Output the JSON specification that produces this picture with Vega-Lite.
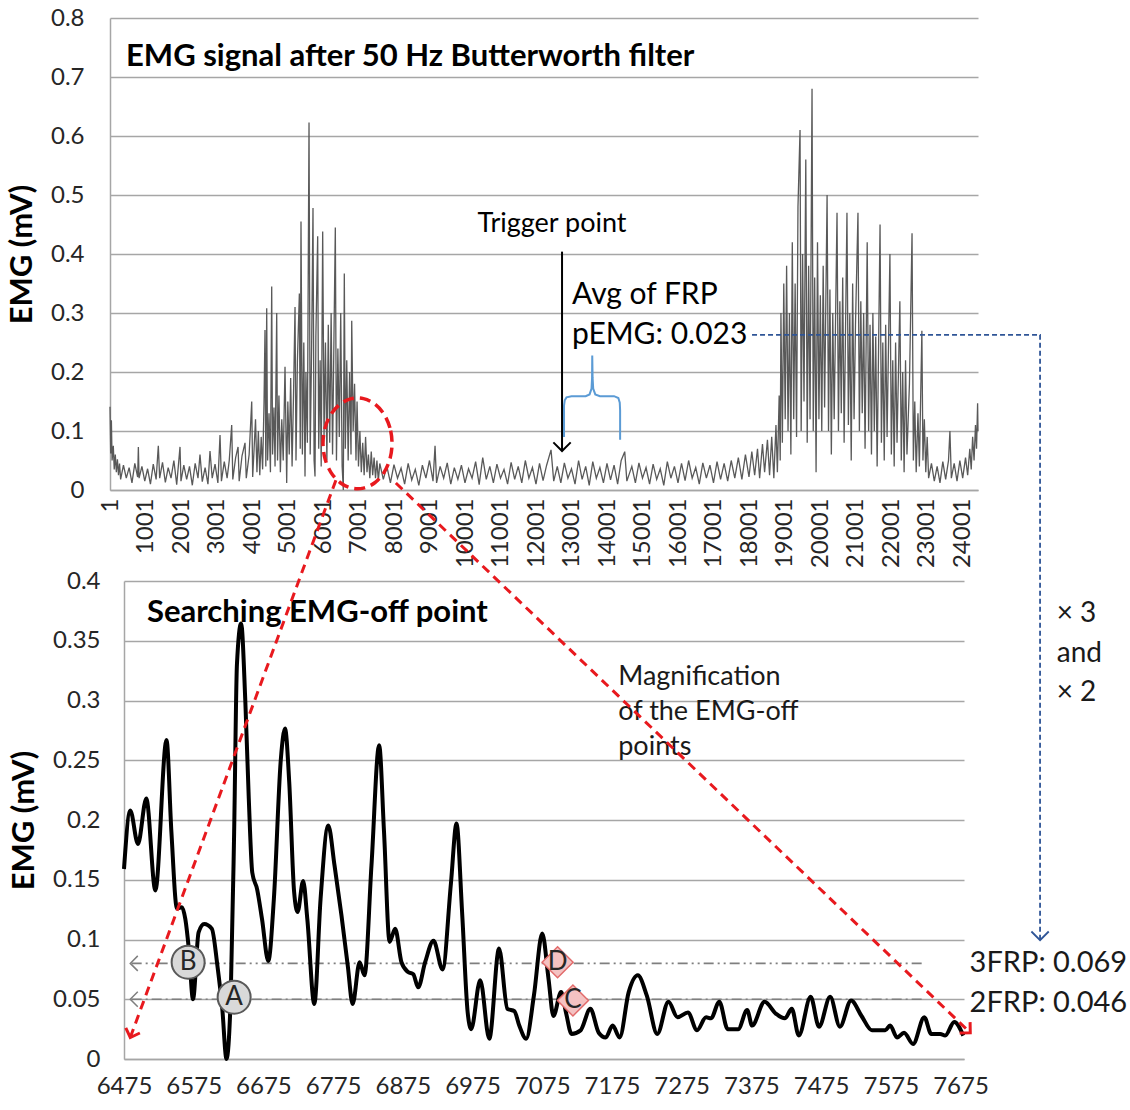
{
  "$schema": "https://vega.github.io/schema/vega-lite/v6.json",
  "background": "white",
  "padding": {"left": 6, "top": 6, "right": 2, "bottom": 5},
  "spacing": 91,
  "bounds": "flush",
  "center": true,
  "config": {
    "font": "Lato",
    "view": {"stroke": null},
    "axis": {
      "labelFont": "Lato", "labelFontSize": 24, "labelColor": "#262626",
      "titleFont": "Lato", "titleFontWeight": "bold", "titleFontSize": 31, "titleColor": "#000000",
      "ticks": false, "domainColor": "#a6a6a6", "domainWidth": 1.5,
      "gridColor": "#a6a6a6", "gridWidth": 1.5, "labelFlush": false, "labelOverlap": false
    }
  },
  "datasets": {
    "emg": [
      {"i":1,"v":0.141},{"i":20,"v":0.062},{"i":40,"v":0.118},{"i":60,"v":0.05},{"i":94,"v":0.075},{"i":120,"v":0.035},{"i":150,"v":0.06},{"i":180,"v":0.03},{"i":210,"v":0.052},{"i":240,"v":0.025},{"i":270,"v":0.045},
      {"i":300,"v":0.018},{"i":380,"v":0.042},{"i":460,"v":0.02},{"i":540,"v":0.038},{"i":620,"v":0.012},{"i":700,"v":0.045},{"i":780,"v":0.022},{"i":800,"v":0.073},{"i":820,"v":0.02},{"i":900,"v":0.04},{"i":980,"v":0.015},{"i":1060,"v":0.036},{"i":1140,"v":0.01},{"i":1220,"v":0.044},{"i":1300,"v":0.018},{"i":1362,"v":0.075},{"i":1400,"v":0.02},{"i":1480,"v":0.047},{"i":1560,"v":0.013},{"i":1640,"v":0.038},{"i":1720,"v":0.02},{"i":1800,"v":0.05},{"i":1880,"v":0.009},{"i":1973,"v":0.073},{"i":2000,"v":0.015},{"i":2080,"v":0.042},{"i":2160,"v":0.018},{"i":2240,"v":0.04},{"i":2320,"v":0.008},{"i":2400,"v":0.045},{"i":2480,"v":0.02},{"i":2536,"v":0.06},{"i":2600,"v":0.014},{"i":2680,"v":0.038},{"i":2760,"v":0.01},{"i":2818,"v":0.066},{"i":2880,"v":0.02},{"i":2960,"v":0.044},{"i":3040,"v":0.012},{"i":3100,"v":0.093},{"i":3140,"v":0.015},{"i":3220,"v":0.048},{"i":3300,"v":0.02},{"i":3360,"v":0.05},{"i":3429,"v":0.11},{"i":3460,"v":0.018},{"i":3540,"v":0.055},{"i":3608,"v":0.073},{"i":3640,"v":0.015},{"i":3720,"v":0.058},{"i":3804,"v":0.08},{"i":3840,"v":0.02},{"i":3920,"v":0.06},{"i":3993,"v":0.15},{"i":4020,"v":0.022},
      {"i":4060,"v":0.07},{"i":4100,"v":0.12},{"i":4140,"v":0.03},{"i":4180,"v":0.1},{"i":4220,"v":0.025},{"i":4260,"v":0.09},{"i":4300,"v":0.035},{"i":4340,"v":0.15},{"i":4367,"v":0.271},{"i":4390,"v":0.04},{"i":4415,"v":0.308},{"i":4440,"v":0.05},{"i":4480,"v":0.13},{"i":4520,"v":0.03},{"i":4556,"v":0.345},{"i":4580,"v":0.06},{"i":4620,"v":0.14},{"i":4650,"v":0.04},{"i":4697,"v":0.3},{"i":4720,"v":0.05},{"i":4760,"v":0.16},{"i":4800,"v":0.03},{"i":4840,"v":0.12},{"i":4880,"v":0.05},{"i":4931,"v":0.209},{"i":4978,"v":0.012},{"i":5010,"v":0.15},{"i":5050,"v":0.06},{"i":5090,"v":0.19},{"i":5130,"v":0.04},{"i":5170,"v":0.16},{"i":5213,"v":0.31},{"i":5240,"v":0.05},{"i":5280,"v":0.22},{"i":5335,"v":0.333},{"i":5360,"v":0.07},{"i":5381,"v":0.455},{"i":5420,"v":0.06},{"i":5460,"v":0.25},{"i":5494,"v":0.023},{"i":5520,"v":0.2},{"i":5560,"v":0.08},{"i":5607,"v":0.623},{"i":5640,"v":0.06},{"i":5680,"v":0.24},{"i":5719,"v":0.478},{"i":5750,"v":0.05},{"i":5776,"v":0.023},{"i":5800,"v":0.26},{"i":5851,"v":0.43},{"i":5880,"v":0.07},{"i":5920,"v":0.22},{"i":5950,"v":0.04},{"i":5992,"v":0.438},{"i":6030,"v":0.09},{"i":6070,"v":0.25},{"i":6110,"v":0.05},{"i":6150,"v":0.28},{"i":6190,"v":0.08},{"i":6230,"v":0.3},{"i":6270,"v":0.06},{"i":6310,"v":0.26},{"i":6348,"v":0.445},{"i":6380,"v":0.05},{"i":6420,"v":0.24},{"i":6460,"v":0.09},{"i":6500,"v":0.3},{"i":6540,"v":0.04},{"i":6573,"v":0.0},{"i":6601,"v":0.367},{"i":6630,"v":0.07},{"i":6670,"v":0.22},{"i":6710,"v":0.05},{"i":6750,"v":0.2},{"i":6790,"v":0.06},{"i":6810,"v":0.287},{"i":6850,"v":0.1},{"i":6890,"v":0.18},{"i":6930,"v":0.05},{"i":6960,"v":0.15},{"i":7000,"v":0.04},
      {"i":7040,"v":0.1},{"i":7080,"v":0.03},{"i":7120,"v":0.08},{"i":7160,"v":0.025},{"i":7200,"v":0.09},{"i":7240,"v":0.03},{"i":7280,"v":0.06},{"i":7320,"v":0.02},{"i":7360,"v":0.065},{"i":7400,"v":0.025},{"i":7440,"v":0.055},{"i":7480,"v":0.02},{"i":7520,"v":0.05},{"i":7560,"v":0.015},
      {"i":7600,"v":0.045},{"i":7700,"v":0.018},{"i":7800,"v":0.04},{"i":7900,"v":0.012},{"i":8000,"v":0.043},{"i":8100,"v":0.02},{"i":8200,"v":0.037},{"i":8300,"v":0.01},{"i":8400,"v":0.045},{"i":8500,"v":0.017},{"i":8600,"v":0.035},{"i":8700,"v":0.008},{"i":8800,"v":0.042},{"i":8900,"v":0.02},{"i":9000,"v":0.05},{"i":9100,"v":0.015},{"i":9157,"v":0.075},{"i":9200,"v":0.012},{"i":9300,"v":0.04},{"i":9400,"v":0.02},{"i":9500,"v":0.046},{"i":9600,"v":0.01},{"i":9700,"v":0.038},{"i":9800,"v":0.018},{"i":9900,"v":0.042},{"i":10000,"v":0.012},{"i":10100,"v":0.036},{"i":10200,"v":0.02},{"i":10300,"v":0.048},{"i":10400,"v":0.009},{"i":10500,"v":0.055},{"i":10600,"v":0.018},{"i":10700,"v":0.04},{"i":10800,"v":0.012},{"i":10900,"v":0.044},{"i":11000,"v":0.02},{"i":11100,"v":0.035},{"i":11200,"v":0.01},{"i":11300,"v":0.047},{"i":11400,"v":0.018},{"i":11500,"v":0.04},{"i":11600,"v":0.012},{"i":11700,"v":0.05},{"i":11800,"v":0.02},{"i":11900,"v":0.038},{"i":12000,"v":0.01},{"i":12100,"v":0.045},{"i":12200,"v":0.016},{"i":12300,"v":0.042},{"i":12424,"v":0.068},{"i":12500,"v":0.015},{"i":12600,"v":0.04},{"i":12700,"v":0.012},{"i":12800,"v":0.046},{"i":12900,"v":0.02},{"i":13000,"v":0.036},{"i":13100,"v":0.01},{"i":13200,"v":0.05},{"i":13300,"v":0.018},{"i":13400,"v":0.04},{"i":13500,"v":0.008},{"i":13600,"v":0.048},{"i":13700,"v":0.02},{"i":13800,"v":0.038},{"i":13900,"v":0.012},{"i":14000,"v":0.045},{"i":14100,"v":0.017},{"i":14200,"v":0.042},{"i":14300,"v":0.01},{"i":14400,"v":0.05},{"i":14500,"v":0.065},{"i":14560,"v":0.015},{"i":14700,"v":0.04},{"i":14800,"v":0.012},{"i":14900,"v":0.046},{"i":15000,"v":0.02},{"i":15100,"v":0.038},{"i":15200,"v":0.01},{"i":15300,"v":0.044},{"i":15400,"v":0.018},{"i":15500,"v":0.036},{"i":15600,"v":0.008},{"i":15700,"v":0.048},{"i":15800,"v":0.02},{"i":15900,"v":0.04},{"i":16000,"v":0.012},{"i":16100,"v":0.045},{"i":16200,"v":0.016},{"i":16300,"v":0.05},{"i":16400,"v":0.02},{"i":16500,"v":0.038},{"i":16600,"v":0.01},{"i":16700,"v":0.046},{"i":16800,"v":0.02},{"i":16900,"v":0.042},{"i":17000,"v":0.012},{"i":17100,"v":0.048},{"i":17200,"v":0.018},{"i":17300,"v":0.045},{"i":17400,"v":0.015},{"i":17500,"v":0.05},{"i":17600,"v":0.02},{"i":17700,"v":0.055},{"i":17800,"v":0.018},{"i":17900,"v":0.06},{"i":18000,"v":0.022},
      {"i":18080,"v":0.065},{"i":18160,"v":0.025},{"i":18240,"v":0.07},{"i":18300,"v":0.02},{"i":18380,"v":0.078},{"i":18440,"v":0.03},{"i":18520,"v":0.085},{"i":18580,"v":0.025},{"i":18640,"v":0.09},{"i":18700,"v":0.02},{"i":18760,"v":0.11},{"i":18800,"v":0.03},{"i":18850,"v":0.16},{"i":18880,"v":0.05},
      {"i":18900,"v":0.3},{"i":18940,"v":0.08},{"i":18980,"v":0.35},{"i":19020,"v":0.12},{"i":19060,"v":0.38},{"i":19100,"v":0.1},{"i":19140,"v":0.3},{"i":19180,"v":0.06},{"i":19220,"v":0.42},{"i":19260,"v":0.12},{"i":19300,"v":0.35},{"i":19340,"v":0.09},{"i":19380,"v":0.48},{"i":19438,"v":0.61},{"i":19470,"v":0.1},{"i":19510,"v":0.4},{"i":19550,"v":0.15},{"i":19600,"v":0.56},{"i":19640,"v":0.08},{"i":19680,"v":0.38},{"i":19720,"v":0.12},{"i":19776,"v":0.68},{"i":19810,"v":0.1},{"i":19850,"v":0.36},{"i":19890,"v":0.03},{"i":19930,"v":0.42},{"i":19970,"v":0.12},{"i":20010,"v":0.33},{"i":20050,"v":0.1},{"i":20090,"v":0.38},{"i":20130,"v":0.14},{"i":20200,"v":0.5},{"i":20240,"v":0.1},{"i":20280,"v":0.34},{"i":20320,"v":0.06},{"i":20360,"v":0.3},{"i":20400,"v":0.12},{"i":20480,"v":0.47},{"i":20520,"v":0.1},{"i":20560,"v":0.32},{"i":20600,"v":0.13},{"i":20640,"v":0.36},{"i":20680,"v":0.08},{"i":20760,"v":0.47},{"i":20800,"v":0.11},{"i":20840,"v":0.3},{"i":20880,"v":0.05},{"i":20920,"v":0.35},{"i":20960,"v":0.12},{"i":21000,"v":0.28},{"i":21070,"v":0.47},{"i":21110,"v":0.1},{"i":21150,"v":0.32},{"i":21190,"v":0.13},{"i":21230,"v":0.3},{"i":21270,"v":0.07},{"i":21330,"v":0.42},{"i":21370,"v":0.1},{"i":21410,"v":0.28},{"i":21450,"v":0.06},{"i":21490,"v":0.3},{"i":21530,"v":0.1},{"i":21570,"v":0.26},{"i":21610,"v":0.04},{"i":21692,"v":0.45},{"i":21730,"v":0.08},{"i":21770,"v":0.25},{"i":21810,"v":0.05},{"i":21850,"v":0.28},{"i":21890,"v":0.09},{"i":21970,"v":0.4},{"i":22010,"v":0.06},{"i":22050,"v":0.22},{"i":22090,"v":0.04},{"i":22130,"v":0.25},{"i":22170,"v":0.08},{"i":22250,"v":0.32},{"i":22290,"v":0.05},{"i":22330,"v":0.2},{"i":22370,"v":0.03},{"i":22410,"v":0.22},{"i":22450,"v":0.06},{"i":22520,"v":0.18},{"i":22593,"v":0.435},{"i":22630,"v":0.05},{"i":22670,"v":0.15},{"i":22710,"v":0.03},{"i":22760,"v":0.13},{"i":22800,"v":0.04},{"i":22870,"v":0.27},{"i":22900,"v":0.05},{"i":22940,"v":0.12},{"i":22980,"v":0.03},{"i":23020,"v":0.09},{"i":23060,"v":0.02},
      {"i":23140,"v":0.045},{"i":23220,"v":0.015},{"i":23300,"v":0.04},{"i":23380,"v":0.012},{"i":23460,"v":0.048},{"i":23540,"v":0.018},{"i":23620,"v":0.05},{"i":23660,"v":0.1},{"i":23700,"v":0.02},{"i":23780,"v":0.045},{"i":23860,"v":0.015},{"i":23940,"v":0.05},{"i":24020,"v":0.02},{"i":24100,"v":0.055},{"i":24160,"v":0.025},
      {"i":24220,"v":0.07},{"i":24260,"v":0.035},{"i":24300,"v":0.09},{"i":24340,"v":0.05},{"i":24380,"v":0.11},{"i":24410,"v":0.07},{"i":24440,"v":0.147},{"i":24451,"v":0.1}
    ],
    "off": [
      {"s":6475,"v":0.159},{"s":6484,"v":0.208},{"s":6495,"v":0.18},{"s":6507,"v":0.218},{"s":6520,"v":0.141},{"s":6536,"v":0.267},{"s":6543,"v":0.19},{"s":6551,"v":0.126},{"s":6558,"v":0.127},{"s":6563,"v":0.117},{"s":6568,"v":0.092},{"s":6574,"v":0.05},{"s":6582,"v":0.106},{"s":6590,"v":0.113},{"s":6601,"v":0.109},{"s":6609,"v":0.078},{"s":6616,"v":0.042},{"s":6622,"v":0.0},{"s":6628,"v":0.05},{"s":6633,"v":0.19},{"s":6637,"v":0.33},{"s":6643,"v":0.3645},{"s":6649,"v":0.3},{"s":6654,"v":0.218},{"s":6659,"v":0.156},{"s":6666,"v":0.142},{"s":6673,"v":0.117},{"s":6682,"v":0.082},{"s":6690,"v":0.134},{"s":6700,"v":0.251},{"s":6706,"v":0.2765},{"s":6712,"v":0.232},{"s":6719,"v":0.14},{"s":6724,"v":0.123},{"s":6732,"v":0.149},{"s":6738,"v":0.117},{"s":6748,"v":0.046},{"s":6757,"v":0.134},{"s":6768,"v":0.1955},{"s":6777,"v":0.162},{"s":6787,"v":0.12},{"s":6796,"v":0.078},{"s":6803,"v":0.046},{"s":6813,"v":0.081},{"s":6820,"v":0.07},{"s":6830,"v":0.162},{"s":6841,"v":0.2626},{"s":6848,"v":0.19},{"s":6856,"v":0.098},{"s":6864,"v":0.109},{"s":6873,"v":0.081},{"s":6882,"v":0.073},{"s":6890,"v":0.071},{"s":6897,"v":0.06},{"s":6907,"v":0.081},{"s":6919,"v":0.099},{"s":6932,"v":0.075},{"s":6944,"v":0.147},{"s":6952,"v":0.197},{"s":6960,"v":0.123},{"s":6968,"v":0.039},{"s":6973,"v":0.025},{"s":6986,"v":0.066},{"s":6999,"v":0.017},{"s":7013,"v":0.0924},{"s":7025,"v":0.042},{"s":7035,"v":0.04},{"s":7042,"v":0.028},{"s":7052,"v":0.017},{"s":7063,"v":0.053},{"s":7075,"v":0.105},{"s":7084,"v":0.067},{"s":7091,"v":0.036},{"s":7102,"v":0.056},{"s":7109,"v":0.039},{"s":7117,"v":0.021},{"s":7130,"v":0.024},{"s":7144,"v":0.042},{"s":7156,"v":0.022},{"s":7166,"v":0.018},{"s":7176,"v":0.028},{"s":7186,"v":0.018},{"s":7199,"v":0.056},{"s":7212,"v":0.07},{"s":7225,"v":0.053},{"s":7240,"v":0.021},{"s":7256,"v":0.048},{"s":7269,"v":0.035},{"s":7284,"v":0.039},{"s":7297,"v":0.024},{"s":7310,"v":0.035},{"s":7317,"v":0.034},{"s":7329,"v":0.048},{"s":7341,"v":0.025},{"s":7356,"v":0.025},{"s":7369,"v":0.041},{"s":7376,"v":0.028},{"s":7394,"v":0.048},{"s":7410,"v":0.038},{"s":7423,"v":0.034},{"s":7433,"v":0.042},{"s":7443,"v":0.0196},{"s":7460,"v":0.052},{"s":7472,"v":0.027},{"s":7488,"v":0.052},{"s":7502,"v":0.027},{"s":7518,"v":0.049},{"s":7533,"v":0.036},{"s":7548,"v":0.024},{"s":7567,"v":0.024},{"s":7574,"v":0.028},{"s":7584,"v":0.018},{"s":7594,"v":0.022},{"s":7607,"v":0.0126},{"s":7623,"v":0.035},{"s":7633,"v":0.021},{"s":7646,"v":0.021},{"s":7653,"v":0.0196},{"s":7666,"v":0.031},{"s":7679,"v":0.0196}
    ]
  },
  "vconcat": [
    {
      "width": 868,
      "height": 472,
      "layer": [
        {
          "data": {"name": "emg"},
          "mark": {"type": "line", "color": "#595959", "strokeWidth": 1.3},
          "encoding": {
            "x": {"field": "i", "type": "quantitative", "scale": {"domain": [1, 24451], "nice": false, "zero": false},
                  "axis": {"title": null, "values": [1,1001,2001,3001,4001,5001,6001,7001,8001,9001,10001,11001,12001,13001,14001,15001,16001,17001,18001,19001,20001,21001,22001,23001,24001], "tickCount": 40, "format": "d", "labelAngle": 270, "labelAlign": "right", "labelBaseline": "middle", "labelPadding": 8, "grid": false, "labelOverlap": false, "labelBound": false}},
            "y": {"field": "v", "type": "quantitative", "scale": {"domain": [0, 0.8], "nice": false},
                  "axis": {"title": "EMG (mV)", "values": [0,0.1,0.2,0.3,0.4,0.5,0.6,0.7,0.8], "tickCount": 20, "format": "~g", "labelPadding": 26, "grid": true, "titlePadding": 12, "labelOverlap": false}}
          }
        },
        {
          "data": {"values": [
            {"k":0,"i":7945,"v":0.079},{"k":1,"i":7887,"v":0.1053},{"k":2,"i":7718,"v":0.1285},{"k":3,"i":7459,"v":0.1457},{"k":4,"i":7142,"v":0.1548},{"k":5,"i":6804,"v":0.1548},{"k":6,"i":6487,"v":0.1457},{"k":7,"i":6228,"v":0.1285},{"k":8,"i":6059,"v":0.1053},{"k":9,"i":6001,"v":0.079},{"k":10,"i":6059,"v":0.0527},{"k":11,"i":6228,"v":0.0295},{"k":12,"i":6487,"v":0.0123},{"k":13,"i":6804,"v":0.0032},{"k":14,"i":7142,"v":0.0032},{"k":15,"i":7459,"v":0.0123},{"k":16,"i":7718,"v":0.0295},{"k":17,"i":7887,"v":0.0527}
          ]},
          "mark": {"type": "line", "color": "#e8191e", "strokeWidth": 3.5, "strokeDash": [11, 6], "interpolate": "cardinal-closed"},
          "encoding": {
            "x": {"field": "i", "type": "quantitative"},
            "y": {"field": "v", "type": "quantitative"},
            "order": {"field": "k"}
          }
        },
        {
          "data": {"values": [{"i": 12734, "v": 0.404}, {"i": 12734, "v": 0.066}]},
          "mark": {"type": "line", "color": "#000000", "strokeWidth": 2},
          "encoding": {"x": {"field": "i", "type": "quantitative"}, "y": {"field": "v", "type": "quantitative"}}
        },
        {
          "data": {"values": [{"i": 12734, "v": 0.066}]},
          "mark": {"type": "point", "shape": "M -1 -1 L 0 0 L 1 -1", "size": 300, "filled": false, "color": "#000000", "strokeWidth": 2, "opacity": 1},
          "encoding": {"x": {"field": "i", "type": "quantitative"}, "y": {"field": "v", "type": "quantitative"}}
        },
        {
          "data": {"values": [
            {"k":0,"i":12790,"v":0.09},{"k":1,"i":12790,"v":0.143},{"k":2,"i":12810,"v":0.152},{"k":3,"i":12860,"v":0.157},{"k":4,"i":13000,"v":0.159},{"k":5,"i":13400,"v":0.159},{"k":6,"i":13510,"v":0.162},{"k":7,"i":13565,"v":0.172},{"k":8,"i":13580,"v":0.19},{"k":9,"i":13585,"v":0.228},{"k":10,"i":13595,"v":0.19},{"k":11,"i":13612,"v":0.172},{"k":12,"i":13670,"v":0.162},{"k":13,"i":13800,"v":0.159},{"k":14,"i":14200,"v":0.159},{"k":15,"i":14320,"v":0.156},{"k":16,"i":14360,"v":0.148},{"k":17,"i":14370,"v":0.135},{"k":18,"i":14370,"v":0.085}
          ]},
          "mark": {"type": "line", "color": "#5b9bd5", "strokeWidth": 2},
          "encoding": {"x": {"field": "i", "type": "quantitative"}, "y": {"field": "v", "type": "quantitative"}, "order": {"field": "k"}}
        },
        {
          "data": {"values": [{"k":0,"i":18086,"v":0.263},{"k":1,"i":26199,"v":0.263},{"k":2,"i":26199,"v":-0.763}]},
          "mark": {"type": "line", "color": "#2f5597", "strokeWidth": 1.8, "strokeDash": [5, 3]},
          "encoding": {"x": {"field": "i", "type": "quantitative"}, "y": {"field": "v", "type": "quantitative"}, "order": {"field": "k"}}
        },
        {
          "data": {"values": [{"i": 26199, "v": -0.763}]},
          "mark": {"type": "point", "shape": "M -1 -1 L 0 0 L 1 -1", "size": 300, "filled": false, "color": "#2f5597", "strokeWidth": 1.8, "opacity": 1},
          "encoding": {"x": {"field": "i", "type": "quantitative"}, "y": {"field": "v", "type": "quantitative"}}
        },
        {
          "data": {"values": [{"i": 452, "v": 0.734, "t": "EMG signal after 50 Hz Butterworth filter"}]},
          "mark": {"type": "text", "align": "left", "baseline": "middle", "fontSize": 31, "fontWeight": "bold", "color": "#000000"},
          "encoding": {"x": {"field": "i", "type": "quantitative"}, "y": {"field": "v", "type": "quantitative"}, "text": {"field": "t"}}
        },
        {
          "data": {"values": [{"i": 12452, "v": 0.451, "t": "Trigger point"}]},
          "mark": {"type": "text", "align": "center", "baseline": "middle", "fontSize": 27, "color": "#000000"},
          "encoding": {"x": {"field": "i", "type": "quantitative"}, "y": {"field": "v", "type": "quantitative"}, "text": {"field": "t"}}
        },
        {
          "data": {"values": [{"i": 13016, "v": 0.33, "t": "Avg of FRP"}, {"i": 13016, "v": 0.263, "t": "pEMG: 0.023"}]},
          "mark": {"type": "text", "align": "left", "baseline": "middle", "fontSize": 30, "color": "#000000"},
          "encoding": {"x": {"field": "i", "type": "quantitative"}, "y": {"field": "v", "type": "quantitative"}, "text": {"field": "t"}}
        }
      ]
    },
    {
      "width": 840,
      "height": 478,
      "layer": [
        {
          "data": {"values": [{"s": 6486, "v": 0.08}, {"s": 7623, "v": 0.08}]},
          "mark": {"type": "line", "color": "#7f7f7f", "strokeWidth": 1.6, "strokeDash": [10, 4, 2, 4, 2, 4]},
          "encoding": {
            "x": {"field": "s", "type": "quantitative", "scale": {"domain": [6475, 7680], "nice": false, "zero": false},
                  "axis": {"title": null, "values": [6475,6575,6675,6775,6875,6975,7075,7175,7275,7375,7475,7575,7675], "tickCount": 30, "format": "d", "labelAngle": 0, "labelPadding": 15, "grid": false, "labelOverlap": false}},
            "y": {"field": "v", "type": "quantitative", "scale": {"domain": [0, 0.4], "nice": false},
                  "axis": {"title": "EMG (mV)", "values": [0,0.05,0.1,0.15,0.2,0.25,0.3,0.35,0.4], "tickCount": 20, "format": "~g", "labelPadding": 24, "grid": true, "titlePadding": 12, "labelOverlap": false}}
          }
        },
        {
          "data": {"values": [{"s": 6486, "v": 0.05}, {"s": 7623, "v": 0.05}]},
          "mark": {"type": "line", "color": "#7f7f7f", "strokeWidth": 1.6, "strokeDash": [10, 4, 2, 4]},
          "encoding": {"x": {"field": "s", "type": "quantitative"}, "y": {"field": "v", "type": "quantitative"}}
        },
        {
          "data": {"values": [{"s": 6484, "v": 0.08}, {"s": 6484, "v": 0.05}]},
          "mark": {"type": "point", "shape": "M -1 -1 L 0 0 L 1 -1", "angle": 90, "size": 225, "filled": false, "color": "#7f7f7f", "strokeWidth": 1.5, "opacity": 1},
          "encoding": {"x": {"field": "s", "type": "quantitative"}, "y": {"field": "v", "type": "quantitative"}}
        },
        {
          "data": {"name": "off"},
          "mark": {"type": "line", "color": "#000000", "strokeWidth": 4, "interpolate": "monotone"},
          "encoding": {"x": {"field": "s", "type": "quantitative"}, "y": {"field": "v", "type": "quantitative"}}
        },
        {
          "data": {"values": [{"s": 6567, "v": 0.081, "t": "B"}, {"s": 6633, "v": 0.0517, "t": "A"}]},
          "mark": {"type": "point", "shape": "circle", "size": 1089, "filled": true, "fill": "#d9d9d9", "stroke": "#595959", "strokeWidth": 2, "opacity": 1},
          "encoding": {"x": {"field": "s", "type": "quantitative"}, "y": {"field": "v", "type": "quantitative"}}
        },
        {
          "data": {"values": [{"s": 7097, "v": 0.081, "t": "D"}, {"s": 7119, "v": 0.049, "t": "C"}]},
          "mark": {"type": "point", "shape": "diamond", "size": 960, "filled": true, "fill": "#f4c2c2", "stroke": "#e26b6b", "strokeWidth": 1.5, "opacity": 1},
          "encoding": {"x": {"field": "s", "type": "quantitative"}, "y": {"field": "v", "type": "quantitative"}}
        },
        {
          "data": {"values": [{"s": 6567, "v": 0.081, "t": "B"}, {"s": 6633, "v": 0.0517, "t": "A"}, {"s": 7097, "v": 0.081, "t": "D"}, {"s": 7119, "v": 0.049, "t": "C"}]},
          "mark": {"type": "text", "align": "center", "baseline": "middle", "fontSize": 26, "color": "#262626"},
          "encoding": {"x": {"field": "s", "type": "quantitative"}, "y": {"field": "v", "type": "quantitative"}, "text": {"field": "t"}}
        },
        {
          "data": {"values": [{"s": 6508, "v": 0.373, "t": "Searching EMG-off point"}]},
          "mark": {"type": "text", "align": "left", "baseline": "middle", "fontSize": 31, "fontWeight": "bold", "color": "#000000"},
          "encoding": {"x": {"field": "s", "type": "quantitative"}, "y": {"field": "v", "type": "quantitative"}, "text": {"field": "t"}}
        },
        {
          "data": {"values": [{"s": 7184, "v": 0.3197, "t": "Magnification"}, {"s": 7184, "v": 0.2904, "t": "of the EMG-off"}, {"s": 7184, "v": 0.2611, "t": "points"}]},
          "mark": {"type": "text", "align": "left", "baseline": "middle", "fontSize": 27, "color": "#1a1a1a"},
          "encoding": {"x": {"field": "s", "type": "quantitative"}, "y": {"field": "v", "type": "quantitative"}, "text": {"field": "t"}}
        },
        {
          "data": {"values": [{"s": 7688, "v": 0.0803, "t": "3FRP: 0.069"}, {"s": 7688, "v": 0.0469, "t": "2FRP: 0.046"}]},
          "mark": {"type": "text", "align": "left", "baseline": "middle", "fontSize": 29, "color": "#1a1a1a"},
          "encoding": {"x": {"field": "s", "type": "quantitative"}, "y": {"field": "v", "type": "quantitative"}, "text": {"field": "t"}}
        },
        {
          "data": {"values": [{"s": 7813, "v": 0.3724, "t": "× 3"}, {"s": 7813, "v": 0.3389, "t": "and"}, {"s": 7813, "v": 0.3063, "t": "× 2"}]},
          "mark": {"type": "text", "align": "left", "baseline": "middle", "fontSize": 28, "color": "#1a1a1a"},
          "encoding": {"x": {"field": "s", "type": "quantitative"}, "y": {"field": "v", "type": "quantitative"}, "text": {"field": "t"}}
        },
        {
          "data": {"values": [{"g": "L", "s": 6780, "v": 0.486}, {"g": "L", "s": 6484, "v": 0.018}, {"g": "R", "s": 6865, "v": 0.482}, {"g": "R", "s": 7689, "v": 0.022}]},
          "mark": {"type": "line", "color": "#e8191e", "strokeWidth": 3, "strokeDash": [9, 6]},
          "encoding": {"x": {"field": "s", "type": "quantitative"}, "y": {"field": "v", "type": "quantitative"}, "detail": {"field": "g"}}
        },
        {
          "data": {"values": [{"s": 6484, "v": 0.018}]},
          "mark": {"type": "point", "shape": "M -1 -1 L 0 0 L 1 -1", "angle": 20, "size": 225, "filled": false, "color": "#e8191e", "strokeWidth": 3, "opacity": 1},
          "encoding": {"x": {"field": "s", "type": "quantitative"}, "y": {"field": "v", "type": "quantitative"}}
        },
        {
          "data": {"values": [{"s": 7689, "v": 0.022}]},
          "mark": {"type": "point", "shape": "M -1 -1 L 0 0 L 1 -1", "angle": -46, "size": 225, "filled": false, "color": "#e8191e", "strokeWidth": 3, "opacity": 1},
          "encoding": {"x": {"field": "s", "type": "quantitative"}, "y": {"field": "v", "type": "quantitative"}}
        }
      ]
    }
  ]
}
